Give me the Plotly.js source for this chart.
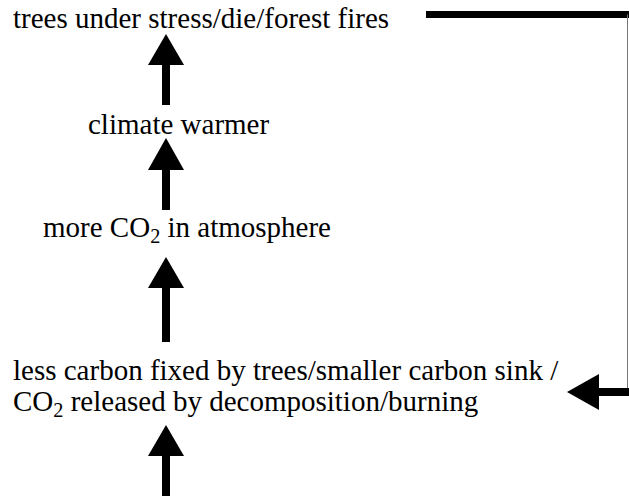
<!DOCTYPE html>
<html>
<head>
<meta charset="utf-8">
<script src="https://cdn.plot.ly/plotly-3.0.1.min.js"></script>
<style>html,body{margin:0;padding:0;background:#fff;}#chart{width:629px;height:496px;}</style>
</head>
<body>
<div id="chart"></div>
<script>
// Flow-diagram content
const labels = [
  "trees under stress/die/forest fires",
  "climate warmer",
  "more CO<sub>2</sub> in atmosphere",
  "less carbon fixed by trees/smaller carbon sink /",
  "CO<sub>2</sub> released by decomposition/burning"
];
const labelLeft = [12, 87, 42, 12, 12];
const labelBaseline = [27, 133, 238, 379, 412];

// Upward arrows (tip, head base, tail)
const upArrowTip  = [34, 138, 257, 425];
const upArrowBase = [65, 170, 288, 456];
const upArrowTail = [105, 210, 342, 510];
const upArrowX = 166;

// Feedback loop
const loopTopY = 14.5;
const loopStartX = 426;
const loopRightX = 627.5;
const loopReturnY = 392;
const loopTipX = 567;
const loopHeadBaseX = 599;

const headHalf = 18, shaftHalf = 4;
const FONT = {family: "Liberation Serif, Times New Roman, serif", size: 29, color: "#000"};

const shapes = [];
for (let i = 0; i < upArrowTip.length; i++) {
  shapes.push({type: "rect", xref: "x", yref: "y",
    x0: upArrowX - shaftHalf, x1: upArrowX + shaftHalf, y0: upArrowBase[i] - 1, y1: upArrowTail[i],
    fillcolor: "#000", line: {width: 0}});
  shapes.push({type: "path", xref: "x", yref: "y",
    path: `M ${upArrowX} ${upArrowTip[i]} L ${upArrowX + headHalf} ${upArrowBase[i]} L ${upArrowX - headHalf} ${upArrowBase[i]} Z`,
    fillcolor: "#000", line: {width: 0}});
}
// thick top line
shapes.push({type: "rect", xref: "x", yref: "y",
  x0: loopStartX, x1: 640, y0: loopTopY - 3.5, y1: loopTopY + 3.5,
  fillcolor: "#000", line: {width: 0}});
// thin vertical line
shapes.push({type: "line", xref: "x", yref: "y",
  x0: loopRightX, x1: loopRightX, y0: loopTopY, y1: loopReturnY,
  line: {color: "#777", width: 1}});
// return arrow shaft
shapes.push({type: "rect", xref: "x", yref: "y",
  x0: loopHeadBaseX - 1, x1: 640, y0: loopReturnY - shaftHalf, y1: loopReturnY + shaftHalf,
  fillcolor: "#000", line: {width: 0}});
// return arrow head
shapes.push({type: "path", xref: "x", yref: "y",
  path: `M ${loopTipX} ${loopReturnY} L ${loopHeadBaseX} ${loopReturnY - headHalf} L ${loopHeadBaseX} ${loopReturnY + headHalf} Z`,
  fillcolor: "#000", line: {width: 0}});

const annotations = labels.map((t, i) => ({
  text: t, x: labelLeft[i], y: labelBaseline[i] - 9.5,
  xref: "x", yref: "y", xanchor: "left", yanchor: "middle",
  showarrow: false, font: FONT, align: "left", borderpad: 0
}));

Plotly.newPlot("chart", [{x: [0], y: [0], mode: "markers", marker: {opacity: 0}, hoverinfo: "skip", showlegend: false}], {
  width: 629, height: 496,
  margin: {l: 0, r: 0, t: 0, b: 0},
  paper_bgcolor: "#fff", plot_bgcolor: "#fff",
  xaxis: {range: [0, 629], visible: false, fixedrange: true},
  yaxis: {range: [496, 0], visible: false, fixedrange: true},
  shapes: shapes,
  annotations: annotations,
  showlegend: false
}, {staticPlot: true, displayModeBar: false});
</script>
</body>
</html>
